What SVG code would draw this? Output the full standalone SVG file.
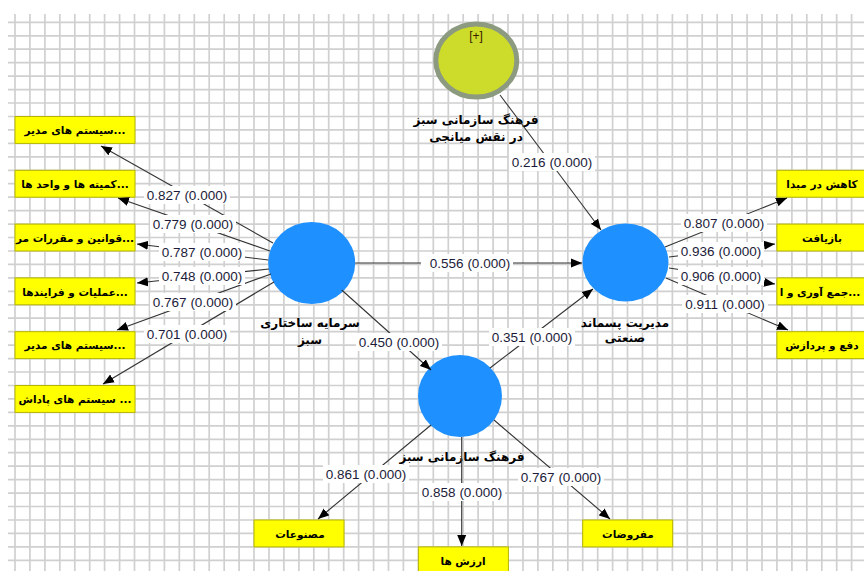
<svg xmlns="http://www.w3.org/2000/svg" width="864" height="571" viewBox="0 0 864 571">
<style>
.grid{stroke:#d0d0d0;stroke-width:1.7;fill:none}
.blue{fill:#1e90ff}
.box{fill:#ffff00;stroke:#b5b500;stroke-width:1}
.bt{font-family:"DejaVu Sans",sans-serif;font-weight:bold;font-size:10.5px;fill:#000;text-anchor:middle}
.nl{font-family:"DejaVu Sans",sans-serif;font-weight:bold;font-size:12px;fill:#000;text-anchor:middle}
.ln{stroke:#333;stroke-width:1.1;fill:none;marker-end:url(#ah)}
.lb{fill:#fff}
.lt{font-family:"Liberation Sans",Arial,sans-serif;font-size:13.5px;fill:#1c1c3a;text-anchor:middle}
</style>
<defs>
<marker id="ah" markerWidth="11" markerHeight="10" refX="11" refY="5" orient="auto" markerUnits="userSpaceOnUse"><path d="M0,0.5 L11,5 L0,9.5 z" fill="#000"/></marker>
</defs>
<rect width="864" height="571" fill="#fff"/>
<path class="grid" d="M15 14V571M29.9 14V571M44.9 14V571M59.8 14V571M74.8 14V571M89.7 14V571M104.6 14V571M119.6 14V571M134.5 14V571M149.5 14V571M164.4 14V571M179.3 14V571M194.3 14V571M209.2 14V571M224.2 14V571M239.1 14V571M254 14V571M269 14V571M283.9 14V571M298.9 14V571M313.8 14V571M328.7 14V571M343.7 14V571M358.6 14V571M373.6 14V571M388.5 14V571M403.4 14V571M418.4 14V571M433.3 14V571M448.3 14V571M463.2 14V571M478.1 14V571M493.1 14V571M508 14V571M523 14V571M537.9 14V571M552.8 14V571M567.8 14V571M582.7 14V571M597.7 14V571M612.6 14V571M627.5 14V571M642.5 14V571M657.4 14V571M672.4 14V571M687.3 14V571M702.2 14V571M717.2 14V571M732.1 14V571M747.1 14V571M762 14V571M776.9 14V571M791.9 14V571M806.8 14V571M821.8 14V571M836.7 14V571M851.6 14V571
M8 22.3H864M8 35.8H864M8 49.2H864M8 62.7H864M8 76.1H864M8 89.6H864M8 103H864M8 116.5H864M8 129.9H864M8 143.4H864M8 156.8H864M8 170.3H864M8 183.7H864M8 197.2H864M8 210.6H864M8 224.1H864M8 237.5H864M8 251H864M8 264.4H864M8 277.9H864M8 291.3H864M8 304.8H864M8 318.2H864M8 331.7H864M8 345.1H864M8 358.6H864M8 372H864M8 385.5H864M8 398.9H864M8 412.4H864M8 425.8H864M8 439.3H864M8 452.7H864M8 466.2H864M8 479.6H864M8 493.1H864M8 506.5H864M8 520H864M8 533.4H864M8 546.9H864M8 560.3H864"/>

<g id="node-mediator">
<ellipse cx="476.3" cy="60.5" rx="40.5" ry="36.5" fill="#cddc2a" stroke="#8c9a80" stroke-width="5"/>
<text x="476" y="40" font-family="Liberation Sans,Arial,sans-serif" font-size="12" fill="#3a2000" text-anchor="middle">[+]</text>
<text class="nl" x="476" y="124">فرهنگ سازمانی سبز</text>
<text class="nl" x="476" y="141">در نقش میانجی</text>
</g>
<g id="node-gsc">
<ellipse class="blue" cx="311.7" cy="263" rx="43.5" ry="41"/>
<text class="nl" x="310" y="327">سرمایه ساختاری</text>
<text class="nl" x="310" y="344">سبز</text>
</g>
<g id="node-iwm">
<ellipse class="blue" cx="625.5" cy="262.5" rx="43" ry="39"/>
<text class="nl" x="625" y="327">مدیریت پسماند</text>
<text class="nl" x="625" y="342">صنعتی</text>
</g>
<g id="node-goc">
<ellipse class="blue" cx="460" cy="396" rx="42" ry="41"/>
<text class="nl" x="462" y="461">فرهنگ سازمانی سبز</text>
</g>

<g id="ind-l1"><rect class="box" x="15" y="116.5" width="120" height="26.9"/><text class="bt" x="75" y="134">سیستم های مدیر...</text></g>
<g id="ind-l2"><rect class="box" x="15" y="170.3" width="120" height="26.9"/><text class="bt" x="75" y="188">کمیته ها و واحد ها...</text></g>
<g id="ind-l3"><rect class="box" x="15" y="224.1" width="120" height="26.9"/><text class="bt" x="75" y="241.5">قوانین و مقررات مر...</text></g>
<g id="ind-l4"><rect class="box" x="15" y="277.9" width="120" height="26.9"/><text class="bt" x="75" y="295.5">عملیات و فرایندها...</text></g>
<g id="ind-l5"><rect class="box" x="15" y="331.7" width="120" height="26.9"/><text class="bt" x="75" y="349">سیستم های مدیر...</text></g>
<g id="ind-l6"><rect class="box" x="15" y="385.5" width="120" height="26.9"/><text class="bt" x="75" y="403">سیستم های پاداش ...</text></g>

<g id="ind-r1"><rect class="box" x="776.9" y="170.3" width="90" height="26.9"/><text class="bt" x="822" y="188">کاهش در مبدا</text></g>
<g id="ind-r2"><rect class="box" x="776.9" y="224.1" width="90" height="26.9"/><text class="bt" x="822" y="241.5">بازیافت</text></g>
<g id="ind-r3"><rect class="box" x="776.9" y="277.9" width="90" height="26.9"/><text class="bt" x="820" y="295.5">جمع آوری و ا...</text></g>
<g id="ind-r4"><rect class="box" x="776.9" y="331.7" width="90" height="26.9"/><text class="bt" x="822" y="349">دفع و پردازش</text></g>

<g id="ind-b1"><rect class="box" x="254" y="520" width="90" height="26.9"/><text class="bt" x="300" y="538">مصنوعات</text></g>
<g id="ind-b2"><rect class="box" x="418.4" y="546.9" width="90" height="26.9"/><text class="bt" x="463" y="565">ارزش ها</text></g>
<g id="ind-b3"><rect class="box" x="582.7" y="520" width="90" height="26.9"/><text class="bt" x="628" y="538">مفروضات</text></g>

<g id="connectors">
<line class="ln" x1="273" y1="243" x2="101" y2="146"/>
<line class="ln" x1="270" y1="251" x2="118" y2="198"/>
<line class="ln" x1="268.5" y1="260" x2="137" y2="244"/>
<line class="ln" x1="269" y1="269" x2="137" y2="283"/>
<line class="ln" x1="271" y1="274" x2="117" y2="330"/>
<line class="ln" x1="274" y1="282" x2="103" y2="384"/>
<line class="ln" x1="355.2" y1="263" x2="582" y2="263"/>
<line class="ln" x1="341.7" y1="290" x2="431" y2="370"/>
<line class="ln" x1="490" y1="368" x2="593" y2="289"/>
<line class="ln" x1="500" y1="95" x2="601" y2="230"/>
<line class="ln" x1="665" y1="247" x2="787" y2="198"/>
<line class="ln" x1="669" y1="257" x2="775" y2="244"/>
<line class="ln" x1="669" y1="268" x2="775" y2="284"/>
<line class="ln" x1="666" y1="278" x2="788" y2="330"/>
<line class="ln" x1="431" y1="425" x2="318" y2="519"/>
<line class="ln" x1="461.7" y1="437" x2="461.7" y2="546"/>
<line class="ln" x1="494" y1="420" x2="610" y2="519"/>

<rect class="lb" x="144" y="186" width="86" height="18"/><text class="lt" x="187" y="199.7">0.827 (0.000)</text>
<rect class="lb" x="150" y="215" width="86" height="18"/><text class="lt" x="193" y="228.7">0.779 (0.000)</text>
<rect class="lb" x="159" y="243" width="86" height="18"/><text class="lt" x="202" y="256.7">0.787 (0.000)</text>
<rect class="lb" x="159" y="267" width="86" height="18"/><text class="lt" x="202" y="280.7">0.748 (0.000)</text>
<rect class="lb" x="150" y="293" width="86" height="18"/><text class="lt" x="193" y="306.7">0.767 (0.000)</text>
<rect class="lb" x="144" y="325" width="86" height="18"/><text class="lt" x="187" y="338.7">0.701 (0.000)</text>
<rect class="lb" x="421" y="254" width="92" height="18"/><text class="lt" x="470" y="267.7">0.556 (0.000)</text>
<rect class="lb" x="356" y="333" width="86" height="18"/><text class="lt" x="399" y="346.7">0.450 (0.000)</text>
<rect class="lb" x="489" y="328" width="86" height="18"/><text class="lt" x="532" y="341.7">0.351 (0.000)</text>
<rect class="lb" x="509" y="153" width="86" height="18"/><text class="lt" x="552" y="166.7">0.216 (0.000)</text>
<rect class="lb" x="681" y="214" width="86" height="18"/><text class="lt" x="724" y="227.7">0.807 (0.000)</text>
<rect class="lb" x="678" y="242" width="86" height="18"/><text class="lt" x="721" y="255.7">0.936 (0.000)</text>
<rect class="lb" x="678" y="267" width="86" height="18"/><text class="lt" x="721" y="280.7">0.906 (0.000)</text>
<rect class="lb" x="682" y="295" width="86" height="18"/><text class="lt" x="725" y="308.7">0.911 (0.000)</text>
<rect class="lb" x="323" y="465" width="86" height="18"/><text class="lt" x="366" y="478.7">0.861 (0.000)</text>
<rect class="lb" x="419" y="483" width="86" height="18"/><text class="lt" x="462" y="496.7">0.858 (0.000)</text>
<rect class="lb" x="518" y="468" width="86" height="18"/><text class="lt" x="561" y="481.7">0.767 (0.000)</text>
</g>
</svg>
